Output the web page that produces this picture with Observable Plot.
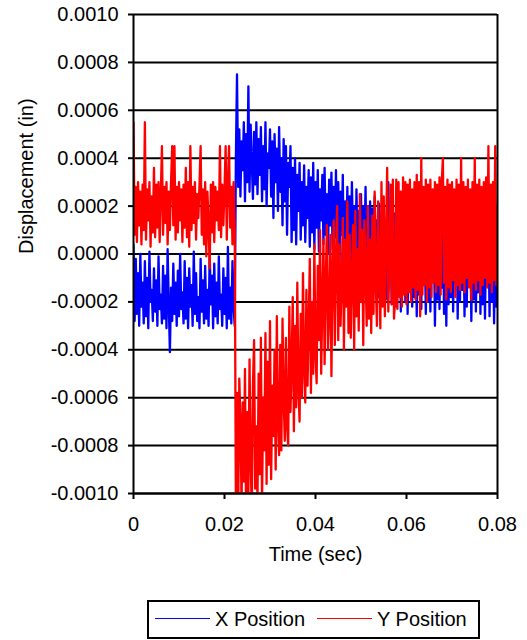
<!DOCTYPE html>
<html>
<head>
<meta charset="utf-8">
<script src="https://cdn.jsdelivr.net/npm/d3@7"></script>
<script src="https://cdn.jsdelivr.net/npm/@observablehq/plot@0.6"></script>
<style>
  html, body { margin: 0; padding: 0; background: #fff; }
  body { width: 527px; height: 640px; position: relative; font-family: "Liberation Sans", Arial, sans-serif; }
  #chart { position: absolute; left: 0; top: 0; }
  #legend { position: absolute; left: 147px; top: 600px; width: 333px; height: 39px; box-sizing: border-box; border: 2px solid #000; background: #fff; }
  .sw { position: absolute; top: 16px; height: 0; border-top: 1.5px solid; }
  .lt { position: absolute; top: 6px; font-size: 20px; line-height: 22px; color: #000; white-space: nowrap; }
</style>
</head>
<body>
<div id="chart"></div>
<div id="legend">
  <div class="sw" style="left:6px;width:55px;border-color:#0000ff"></div>
  <div class="lt" style="left:66px">X Position</div>
  <div class="sw" style="left:168px;width:55px;border-color:#ff0000"></div>
  <div class="lt" style="left:228px">Y Position</div>
</div>
<script>
// Sample spacing of the recorded signals (sec)
const sampleStep = 0.00025;
// Displacement values in units of 1e-5 inch, one sample every 0.00025 s
const xPosition = [
  4,-28,-2,-25,-8,-30,0,-22,-12,-29,
  -3,-26,-10,-31,1,-20,-15,-28,-6,-24,
  -11,-30,-1,-23,-17,-29,-5,-27,-9,-31,
  2,-21,-41,-14,-28,-4,-25,-12,-30,-7,
  -26,0,-23,-16,-29,-3,-27,-10,-31,-6,
  -22,-13,-30,1,-25,-8,-28,-18,-31,-2,
  -24,-11,-29,-5,-27,-15,-30,0,-21,-9,
  -31,-4,-26,-12,-29,-1,-23,-17,-30,-6,
  -25,-10,-31,3,-27,-14,-29,-3,-22,-30,
  40,75,28,52,24,47,35,55,22,50,
  30,70,26,54,38,23,51,29,55,25,
  48,33,53,22,45,27,55,20,42,36,
  52,24,47,15,50,30,44,18,53,26,
  40,12,48,22,45,8,38,28,45,5,
  36,10,40,4,33,18,38,6,30,12,
  37,5,28,15,35,3,32,9,38,2,
  30,11,35,1,27,14,33,4,36,8,
  25,0,31,12,34,2,28,7,35,-3,
  30,-5,26,8,33,-8,22,3,28,-10,
  24,-6,30,5,20,-12,27,0,18,-9,
  25,-14,20,2,28,-8,17,-15,22,-4,
  19,-16,24,-2,14,-18,21,-7,16,-20,
  20,-10,13,-19,30,-5,15,-21,18,-12,
  17,-22,12,-8,20,-24,10,-15,19,-20,
  14,-25,18,-11,8,-22,16,-18,12,-26,
  15,-17,9,-23,19,-13,6,-25,14,-20,
  11,-24,17,-9,13,-30,7,-19,16,-23,
  12,-14,18,-25,9,-30,15,-21,10,-18,
  16,-24,11,-12,14,-27,8,-20,17,-15,
  13,-26,9,-22,15,-11,12,-28,10,-19,
  14,-24,7,-16,18,-25,11,-21,13,-27,
  9,-13,16,-26,12,-20,15,-29,8,-22,
  5
];
const yPosition = [
  55,8,28,5,30,12,26,4,29,10,
  55,6,27,14,30,3,24,9,36,7,
  29,11,30,5,25,45,8,28,13,30,
  4,26,10,30,45,12,45,6,28,9,
  30,14,27,5,29,11,36,7,30,3,
  45,10,28,13,30,6,25,15,29,45,
  8,27,4,30,-1,26,12,-6,29,9,
  30,5,28,14,26,10,45,7,29,12,
  27,45,6,30,45,11,28,4,30,10,
  -105,-58,-112,-52,-70,-104,-62,-95,-48,-110,
  -66,-100,-44,-86,-108,-55,-36,-98,-72,-102,
  -50,-92,-35,-104,-60,-82,-33,-96,-45,-88,
  -28,-94,-55,-76,-40,-90,-26,-70,-84,-38,
  -82,-27,-60,-78,-35,-72,-80,-22,-66,-46,
  -18,-74,-30,-64,-12,-56,-70,-25,-60,-8,
  -48,-62,-15,-55,-30,-2,-58,-20,-50,4,
  -42,-54,-5,-36,10,-50,-20,6,-46,-12,
  12,-40,-25,8,-51,-8,14,-38,-2,20,
  -36,4,-30,-12,15,-40,6,-22,22,-33,
  8,-35,-10,12,-40,18,-26,2,-32,25,
  -20,10,-38,14,-8,-30,20,-27,6,-33,
  16,-25,26,-12,-30,22,-6,-31,30,-22,
  24,-26,8,36,-24,-4,29,-21,31,-27,
  -19,31,-23,30,-18,26,-22,32,-17,30,
  -21,29,-16,31,-20,27,-14,30,-19,33,
  -15,30,-26,40,-17,28,-13,31,-20,29,
  -14,31,-18,27,-12,30,-16,29,-13,32,
  -17,30,40,-12,28,-19,31,-14,29,-16,
  30,-11,27,-18,31,-13,29,-15,40,-12,
  30,-16,28,-10,31,-14,27,-19,30,-12,
  40,-15,29,-11,31,-17,28,-13,30,-10,
  32,-14,45,-12,29,-16,30,-11,45,-13,
  20
];
const seriesNames = ["X Position", "Y Position"];
const seriesColors = ["#0000ff", "#ff0000"];
const yTicks = [-0.0010, -0.0008, -0.0006, -0.0004, -0.0002, 0.0000, 0.0002, 0.0004, 0.0006, 0.0008, 0.0010];
const yTickLabels = ["-0.0010", "-0.0008", "-0.0006", "-0.0004", "-0.0002", "0.0000", "0.0002", "0.0004", "0.0006", "0.0008", "0.0010"];
const xTicks = [0, 0.02, 0.04, 0.06, 0.08];
const xTickLabels = ["0", "0.02", "0.04", "0.06", "0.08"];
const xTitle = "Time (sec)";
const yTitle = "Displacement (in)";

const toRows = (vals, name) => vals.map((v, i) => ({t: i * sampleStep, d: v * 1e-5, series: name}));
const xRows = toRows(xPosition, seriesNames[0]);
const yRows = toRows(yPosition, seriesNames[1]);

const fontFamily = "'Liberation Sans', Arial, sans-serif";

const chart = Plot.plot({
  width: 527,
  height: 600,
  marginTop: 14,
  marginBottom: 107,
  marginLeft: 133,
  marginRight: 30,
  style: {fontSize: "20px", fontFamily, color: "#000", background: "#fff", overflow: "visible"},
  x: {domain: [0, 0.08], axis: null},
  y: {domain: [-0.001, 0.001], axis: null},
  marks: [
    Plot.ruleY(yTicks, {stroke: "#000", strokeWidth: 2}),
    Plot.line(xRows, {x: "t", y: "d", stroke: seriesColors[0], strokeWidth: 2.3, clip: true}),
    Plot.line(yRows, {x: "t", y: "d", stroke: seriesColors[1], strokeWidth: 2.3, clip: true}),
    Plot.ruleX([0], {stroke: "#000", strokeWidth: 2}),
    Plot.ruleX([0.08], {stroke: "#000", strokeWidth: 2}),
    Plot.ruleY([-0.001], {stroke: "#000", strokeWidth: 2}),
    Plot.axisY(yTicks, {anchor: "left", tickSize: 5, tickPadding: 10, strokeWidth: 2, label: null,
      tickFormat: (d) => yTickLabels[yTicks.indexOf(d)], fontSize: 20}),
    Plot.axisX(xTicks, {anchor: "bottom", tickSize: 6, tickPadding: 17, strokeWidth: 2, label: null,
      tickFormat: (d) => xTickLabels[xTicks.indexOf(d)], fontSize: 20}),
    Plot.text([xTitle], {frameAnchor: "bottom", dy: 67, text: d => d, fontSize: 20}),
    Plot.text([yTitle], {frameAnchor: "left", dx: -107, rotate: -90, text: d => d, fontSize: 20})
  ]
});
document.getElementById("chart").appendChild(chart);
</script>
</body>
</html>
